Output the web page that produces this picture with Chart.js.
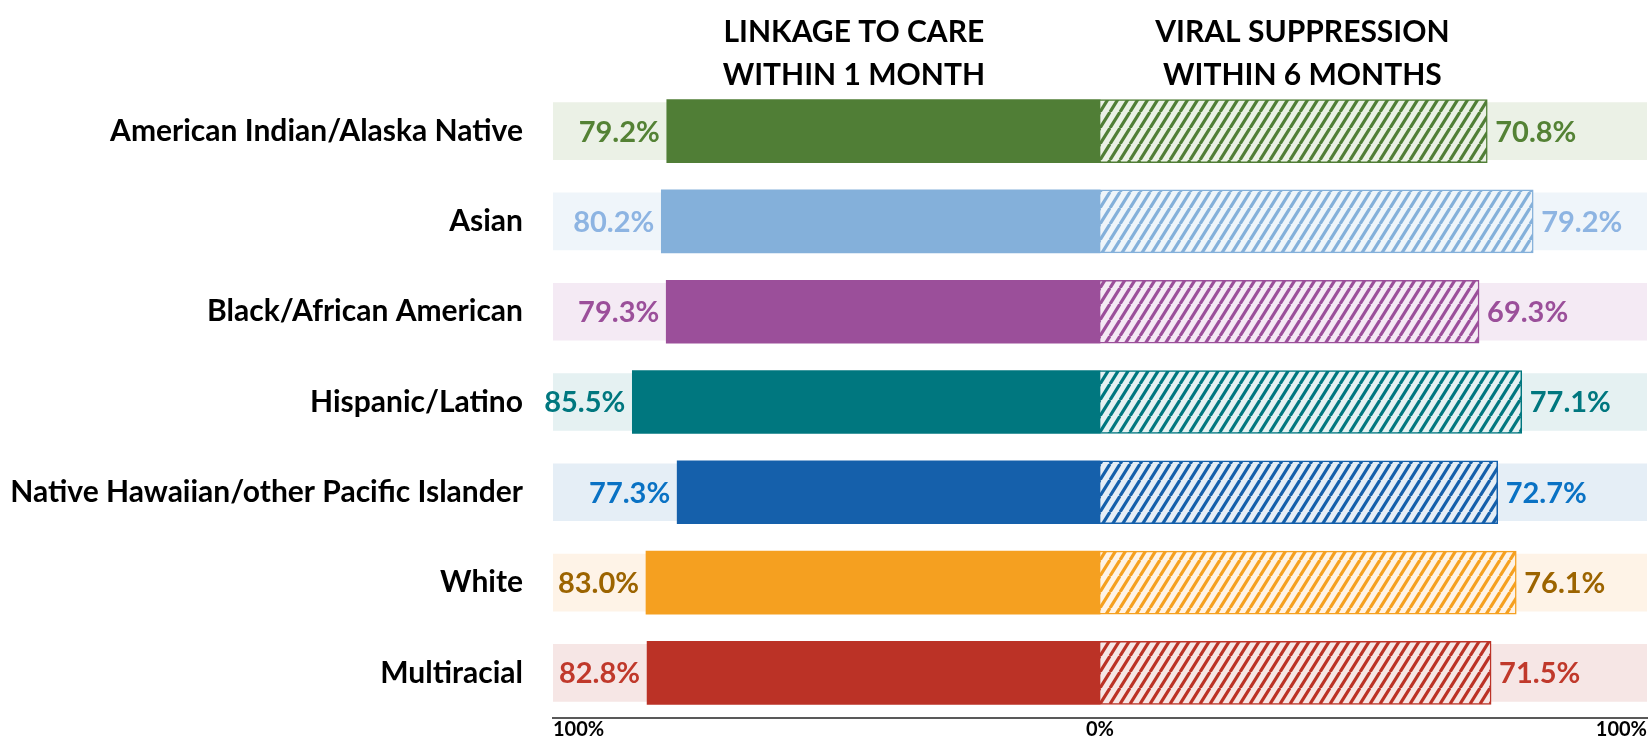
<!DOCTYPE html>
<html>
<head>
<meta charset="utf-8">
<script src="https://cdn.jsdelivr.net/npm/chart.js@4/dist/chart.umd.min.js"></script>
<style>
  html, body { margin: 0; padding: 0; background: #fff; }
</style>
</head>
<body>
<canvas id="grafico" width="1649" height="739"></canvas>
<script>
const categorias = [
  "American Indian/Alaska Native",
  "Asian",
  "Black/African American",
  "Hispanic/Latino",
  "Native Hawaiian/other Pacific Islander",
  "White",
  "Multiracial",
];
const vinculacion = [79.2, 80.2, 79.3, 85.5, 77.3, 83.0, 82.8];
const supresion = [70.8, 79.2, 69.3, 77.1, 72.7, 76.1, 71.5];
const ticksX = [-100, 0, 100];
const tituloIzq = ["LINKAGE TO CARE", "WITHIN 1 MONTH"];
const tituloDer = ["VIRAL SUPPRESSION", "WITHIN 6 MONTHS"];

const coloresBarra = ["#507e36", "#84b0da", "#9b4f9a", "#00777f", "#1560ab", "#f5a020", "#bb3226"];
const coloresFondo = ["#ebf1e6", "#eff5fa", "#f4eaf4", "#e5f1f2", "#e5eef6", "#fef3e7", "#f6e6e5"];
const coloresTexto = ["#548235", "#8db4e2", "#9b4f9a", "#00777f", "#0a72c4", "#9c6400", "#c0392b"];

const FUENTE = "Lato, 'Open Sans', sans-serif";

function crearTrama(linea, fondo) {
  const c = document.createElement("canvas");
  c.width = 10;
  c.height = 16;
  const g = c.getContext("2d");
  g.fillStyle = fondo;
  g.fillRect(0, 0, 10, 16);
  g.strokeStyle = linea;
  g.lineWidth = 3.2;
  [-10, 0, 10].forEach((dx) => {
    g.beginPath();
    g.moveTo(dx, 16);
    g.lineTo(dx + 10, 0);
    g.stroke();
  });
  return g.createPattern(c, "repeat");
}

const ctx = document.getElementById("grafico").getContext("2d");
const tramas = coloresBarra.map((c, i) => crearTrama(c, coloresFondo[i]));

// etiquetas de valor junto a cada barra
const etiquetas = {
  id: "etiquetas",
  afterDatasetsDraw(chart) {
    const g = chart.ctx;
    g.save();
    g.font = "bold 29px " + FUENTE;
    g.textBaseline = "middle";
    chart.getDatasetMeta(0).data.forEach((barra, i) => {
      g.fillStyle = coloresTexto[i];
      g.textAlign = "right";
      g.fillText(vinculacion[i].toFixed(1) + "%", barra.x - 7, barra.y + 1);
    });
    chart.getDatasetMeta(1).data.forEach((barra, i) => {
      g.fillStyle = coloresTexto[i];
      g.textAlign = "left";
      g.fillText(supresion[i].toFixed(1) + "%", barra.x + 8, barra.y + 1);
    });
    g.restore();
  },
};

// los dos titulos de columna
const titulos = {
  id: "titulos",
  afterDraw(chart) {
    const g = chart.ctx;
    const x = chart.scales.x;
    g.save();
    g.font = "bold 30px " + FUENTE;
    g.fillStyle = "#000";
    g.textAlign = "center";
    g.textBaseline = "middle";
    tituloIzq.forEach((t, i) => g.fillText(t, x.getPixelForValue(-45), 32 + i * 43));
    tituloDer.forEach((t, i) => g.fillText(t, x.getPixelForValue(37), 32 + i * 43));
    g.restore();
  },
};

new Chart(ctx, {
  type: "bar",
  data: {
    labels: categorias,
    datasets: [
      {
        label: "Linkage to care",
        data: vinculacion.map((v) => -v),
        backgroundColor: coloresBarra,
        barThickness: 63,
        grouped: false,
        order: 1,
      },
      {
        label: "Viral suppression",
        data: supresion,
        backgroundColor: tramas,
        borderColor: coloresBarra,
        borderWidth: 1.5,
        borderSkipped: "start",
        barThickness: 63,
        grouped: false,
        order: 1,
      },
      {
        label: "fondo",
        data: categorias.map(() => [-100, 100]),
        backgroundColor: coloresFondo,
        barThickness: 57,
        grouped: false,
        order: 3,
      },
    ],
  },
  options: {
    indexAxis: "y",
    responsive: false,
    animation: false,
    layout: { padding: { top: 86, right: 2, bottom: 0, left: 0 } },
    plugins: {
      legend: { display: false },
      tooltip: { enabled: false },
    },
    scales: {
      x: {
        min: -100,
        max: 100,
        grid: { display: false, drawTicks: false },
        border: { display: true, color: "#595959", width: 2 },
        afterBuildTicks: (scale) => {
          scale.ticks = ticksX.map((v) => ({ value: v }));
        },
        afterFit: (scale) => {
          scale.height = 21;
        },
        ticks: {
          align: "inner",
          padding: 2,
          maxRotation: 0,
          color: "#000",
          font: { family: FUENTE, size: 20, weight: "bold", lineHeight: 1 },
          callback: (v) => Math.abs(v) + "%",
        },
      },
      y: {
        grid: { display: false, drawTicks: false },
        border: { display: false },
        afterFit: (scale) => {
          scale.width = 553;
          scale.paddingTop = 0;
          scale.paddingBottom = 0;
        },
        ticks: {
          padding: 30,
          color: "#000",
          font: { family: FUENTE, size: 30, weight: "bold" },
        },
      },
    },
  },
  plugins: [etiquetas, titulos],
});
</script>
</body>
</html>
